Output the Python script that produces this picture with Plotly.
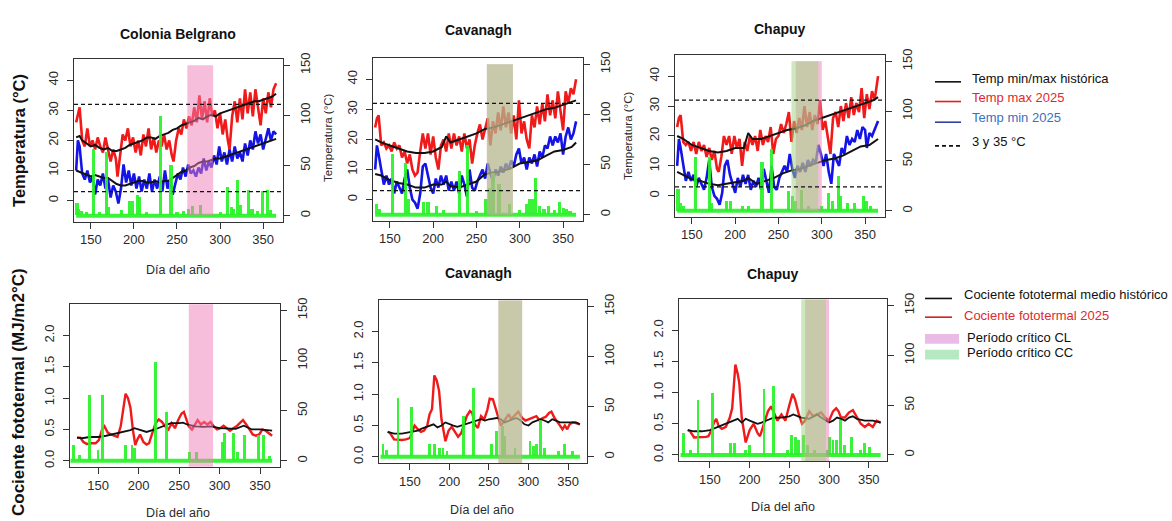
import numpy as np
import plotly.graph_objects as go

W, H = 1172, 521
FONT = "Liberation Sans, Arial, sans-serif"

# ------------------------------------------------------------------
# Temperaturas diarias (°C) por localidad
# ------------------------------------------------------------------
# Colonia Belgrano
cb_tmax_dias = [133,135,137,140,143,146,149,152,155,158,161,164,167,170,173,176,179,181,184,187,190,193,196,199,202,205,208,211,214,217,220,223,226,229,232,235,238,241,244,246,249,252,255,258,261,264,267,270,273,276,279,282,285,288,291,294,297,300,303,306,309,311,314,317,320,323,326,329,332,335,338,341,344,347,350,353,356,359,362,365]
cb_tmax = [26,29,31,20,18,24,18,20,17,21,18,16,21,17,13,17,14,8,15,22,20,24,18,21,16,20,15,22,18,24,17,21,16,20,18,22,17,20,15,13,20,24,22,27,24,28,25,31,26,35,27,33,26,34,28,30,24,29,22,27,20,17,28,33,26,34,27,37,29,36,28,37,31,25,34,29,36,31,37,39]
cb_tmin_dias = [133,135,137,140,143,146,149,152,155,158,161,164,167,170,173,176,179,182,185,188,191,194,197,200,203,206,209,212,215,218,221,224,227,230,233,236,239,242,245,248,251,254,257,260,263,266,269,272,275,278,281,284,287,290,293,296,299,302,305,308,311,314,317,320,323,326,329,332,335,338,341,344,347,350,353,356,359,362,365]
cb_tmin = [10,20,18,9,7,10,6,8,2,7,5,9,4,7,1,5,3,-1,4,12,6,10,5,9,4,8,3,7,4,9,3,7,4,8,3,10,4,7,2,6,9,7,11,8,12,9,10,8,11,9,14,10,13,11,15,12,18,13,16,12,17,13,18,14,16,13,19,15,20,17,23,19,22,17,21,24,20,23,22]
cb_hist_dias = [133,137,140,145,150,155,160,165,170,175,180,185,190,195,200,205,210,215,220,225,230,235,240,245,250,255,260,265,270,275,280,285,290,295,300,305,310,315,320,325,330,335,340,345,350,355,360,365]
cb_hmax = [21,21.5,20,19,18,18.5,17.5,17,17.5,16.5,16.5,17,17.5,18.5,19,19.5,20,21,21,20.5,21.5,22,22.5,23.5,24,25,25.5,26,26.5,27.5,27,28,28.5,28,29,29.5,30,30.5,31,31.5,32,32.5,33,33,33.5,34,34.5,35.5]
cb_hmin = [10,9.5,9,8.5,8,8.5,8,7.5,7.5,6.5,5.5,5,5,5.5,6,6.5,6.5,6,6,6.5,6,6.5,6.5,7.5,8.5,9.5,10,11,11.5,12.5,13,13,13.5,14,14,14.5,15,15.5,16,16.5,17,17.5,18,18.5,19,19.5,20,20.5]

# Cavanagh
cv_tmax_dias = [133,135,137,140,143,146,149,152,155,158,161,164,167,170,173,176,179,182,185,188,191,194,197,200,203,206,209,212,215,218,221,224,227,230,233,236,239,242,245,248,251,254,257,260,263,266,269,272,275,278,281,284,287,290,293,296,299,302,305,308,311,314,317,320,323,326,329,332,335,338,341,344,347,350,353,356,359,362,365]
cv_tmax = [24,27,28,18,19,17,18,16,19,17,18,14,16,12,15,10,8,9,16,22,17,22,15,21,14,10,18,20,16,22,17,22,18,21,16,22,17,20,12,18,22,25,20,24,27,18,26,22,29,23,31,24,29,22,28,20,33,22,26,20,17,28,24,31,25,32,26,35,28,33,27,36,30,23,36,32,37,35,40]
cv_tmin_dias = cv_tmax_dias
cv_tmin = [10,18,15,10,5,8,5,7,2,6,4,2,7,10,4,0,-1,-3,2,11,12,8,4,2,7,4,8,5,8,3,6,3,6,2,8,5,1,10,4,3,6,8,10,7,12,9,6,10,8,11,9,12,10,13,11,15,17,12,14,10,14,12,15,11,16,14,18,17,21,18,21,19,22,15,21,24,20,22,26]
cv_hist_dias = [133,140,150,160,170,180,190,200,210,215,220,230,240,250,260,270,280,290,300,310,320,330,340,350,360,365]
cv_hmax = [20,19,18,17,16,15.5,15.5,16,17.5,21,19,20,21,22,23.5,24,25,26,27,28,29,30,30.5,31.5,32.5,33]
cv_hmin = [8.5,8,6.5,5.5,5,4,4,5,5,6,4.5,4,5,6,8.5,9,9.5,10.5,12,12.5,13,14.5,16,16.5,17.5,19]

# Chapuy
cp_tmax_dias = [133,135,137,140,143,146,149,152,155,158,161,164,167,170,173,176,179,181,184,187,190,193,196,199,202,205,208,211,214,217,220,223,226,229,232,235,238,241,244,247,250,253,256,259,262,265,268,271,274,277,280,283,286,289,292,295,298,301,304,307,310,313,316,319,322,325,328,331,334,337,340,343,346,349,352,355,358,361,363,365]
cp_tmax = [23,26,27,18,17,18,15,18,14,18,15,17,13,16,12,15,9,8,13,20,17,20,14,20,16,19,10,18,15,20,17,20,15,22,17,20,18,23,14,19,20,24,21,24,28,18,25,21,26,22,30,23,28,22,27,24,32,22,25,20,14,26,28,23,30,25,31,26,33,27,31,28,36,26,34,29,35,32,36,40]
cp_tmin_dias = [133,135,137,140,143,146,149,152,155,158,161,164,167,170,173,176,179,182,185,188,191,194,197,200,203,206,209,212,215,218,221,224,227,230,233,236,239,242,245,248,251,254,257,260,263,266,269,272,275,278,281,284,287,290,293,296,299,302,305,308,311,314,317,320,323,326,329,332,335,338,341,344,347,350,352,355,358,361,365]
cp_tmin = [10,19,16,10,5,8,5,7,3,6,4,2,6,12,3,0,-1,-3,1,10,12,7,4,1,6,3,7,4,7,2,5,3,6,2,9,5,1,10,3,2,6,8,10,8,14,9,6,10,8,11,8,12,10,12,11,17,14,10,14,8,4,14,12,10,16,14,20,17,19,18,22,19,23,22,16,21,20,22,25]
cp_hist_max_dias = [133,140,150,160,170,180,190,200,210,215,220,230,240,250,260,270,280,290,300,310,320,330,340,350,360,365]
cp_hmax = [20,19,17,16,15,14.5,15,16,16,21,19,19,20,21,22,22.5,23.5,25,26,27,28,29,30,31,32,33]
cp_hist_min_dias = [133,140,150,160,170,180,190,200,210,215,225,235,245,255,265,275,285,295,305,315,325,335,345,355,365]
cp_hmin = [8,7,5.5,5,4,3.5,4,4.5,5,6,4,5,6,7.5,8.5,9,10,11,12,12.5,13.5,15,16.5,17,19]

# ------------------------------------------------------------------
# Precipitación diaria (mm); los días no listados son secos
# ------------------------------------------------------------------
cb_lluvia_dias = [134,136,139,145,153,160,168,171,186,195,198,204,207,215,231,243,250,258,263,268,277,300,309,313,316,320,324,333,337,343,349,355,358]
cb_lluvia = [12,6,4,3,66,3,63,8,5,14,14,20,18,3,99,50,3,4,6,9,10,3,28,8,6,35,10,25,6,4,24,25,5]
cv_lluvia_dias = [135,138,153,168,171,189,194,204,212,230,240,250,261,265,269,276,288,300,308,311,315,318,323,328,333,340,346,350,354,358]
cv_lluvia = [10,5,60,51,15,12,12,8,4,43,69,3,15,26,41,30,10,4,10,15,15,36,8,5,8,4,12,6,5,3]
cp_lluvia_dias = [134,137,140,154,170,173,190,195,208,215,231,242,262,266,270,277,285,300,308,312,319,322,330,338,348,351,356]
cp_lluvia = [22,8,5,54,54,8,10,10,5,5,49,62,20,15,10,21,5,5,18,10,35,15,8,8,15,10,5]

cb_lluvia2_dias = [120,127,139,150,155,184,192,195,221,234,263,272,304,306,317,322,331,348,354,362]
cb_lluvia2 = [15,5,65,10,65,15,15,12,98,48,8,8,18,27,27,8,25,25,25,4]
cv_lluvia2_dias = [116,120,135,152,175,181,188,192,197,218,231,253,260,267,270,283,302,306,310,315,320,338,346,356]
cv_lluvia2 = [12,6,58,49,12,12,8,8,5,40,68,12,25,30,20,8,15,10,12,36,8,5,12,5]
cp_lluvia2_dias = [117,125,135,153,176,181,195,200,218,230,248,253,258,262,268,273,282,298,301,305,309,314,320,328,340,345,351]
cp_lluvia2 = [22,5,55,62,12,12,5,10,66,69,5,20,18,15,20,10,5,5,18,15,15,35,10,18,5,12,8]

# Período de registro (día inicial, día final)
registro_temp = [133, 365]
registro_cb_q = [116, 365]
registro_cv_q = [113, 365]
registro_cp_q = [113, 365]

# ------------------------------------------------------------------
# Cociente fototermal (MJ/m2°C)
# ------------------------------------------------------------------
cb_qh_dias = [124,130,140,150,160,170,180,190,195,200,210,220,230,240,250,255,260,270,280,290,300,310,320,330,340,350,360,365]
cb_qh = [0.37,0.36,0.38,0.38,0.40,0.43,0.46,0.49,0.52,0.50,0.46,0.50,0.55,0.60,0.60,0.61,0.58,0.55,0.54,0.55,0.52,0.52,0.51,0.56,0.50,0.50,0.49,0.48]
cb_q_dias = [124,128,132,136,142,147,151,155,158,162,166,170,174,178,181,184,187,190,193,196,199,202,206,210,213,217,221,225,229,233,237,241,245,249,253,256,259,262,266,270,273,277,281,285,289,293,297,301,305,309,313,317,321,325,329,333,337,341,345,349,353,357,361,365]
cb_q = [0.37,0.37,0.30,0.27,0.28,0.28,0.33,0.50,0.55,0.45,0.42,0.40,0.38,0.55,0.80,1.07,1.00,0.85,0.50,0.25,0.35,0.42,0.30,0.26,0.28,0.45,0.60,0.66,0.62,0.55,0.50,0.60,0.52,0.65,0.75,0.78,0.65,0.55,0.50,0.58,0.65,0.58,0.62,0.58,0.62,0.55,0.50,0.52,0.56,0.52,0.48,0.52,0.55,0.60,0.65,0.58,0.50,0.42,0.40,0.42,0.50,0.48,0.44,0.40]

cv_qh_dias = [122,130,140,150,160,165,175,180,185,190,195,200,205,210,220,230,240,245,250,260,265,270,275,280,285,290,295,300,305,310,315,320,325,330,335,340,350,360,365]
cv_qh = [0.40,0.37,0.37,0.40,0.42,0.45,0.50,0.52,0.47,0.50,0.55,0.52,0.50,0.48,0.52,0.55,0.60,0.58,0.60,0.62,0.60,0.55,0.58,0.60,0.62,0.58,0.52,0.50,0.55,0.58,0.60,0.58,0.55,0.60,0.58,0.55,0.55,0.55,0.52]
cv_q_dias = [122,125,130,135,140,145,150,153,156,160,164,168,172,175,178,181,184,187,190,195,199,203,207,211,215,219,222,226,229,232,236,240,244,248,251,255,258,262,265,268,272,275,278,282,287,292,296,300,305,310,314,318,322,326,329,333,337,340,343,346,349,352,356,360,365]
cv_q = [0.40,0.38,0.28,0.27,0.27,0.28,0.30,0.40,0.50,0.44,0.40,0.42,0.50,0.68,0.76,1.30,1.22,1.05,0.60,0.25,0.42,0.48,0.40,0.32,0.38,0.55,0.65,0.73,0.70,0.52,0.46,0.65,0.60,0.75,0.93,0.92,0.80,0.62,0.50,0.55,0.62,0.68,0.60,0.65,0.72,0.62,0.58,0.60,0.62,0.65,0.58,0.62,0.64,0.70,0.72,0.62,0.55,0.50,0.44,0.50,0.44,0.52,0.55,0.54,0.52]

cp_qh_dias = [122,130,140,150,160,170,175,180,185,190,195,200,210,215,220,230,240,250,255,265,275,285,290,300,305,310,315,320,325,330,335,345,355,365]
cp_qh = [0.40,0.38,0.38,0.40,0.45,0.50,0.52,0.55,0.58,0.52,0.58,0.55,0.50,0.52,0.55,0.60,0.60,0.62,0.65,0.60,0.58,0.65,0.60,0.52,0.55,0.60,0.58,0.55,0.60,0.62,0.58,0.55,0.55,0.52]
cp_q_dias = [122,125,130,135,140,145,148,152,155,158,161,165,170,175,178,182,185,187,190,195,200,205,210,213,218,223,227,230,235,240,245,250,254,257,262,266,270,275,280,285,290,295,300,305,309,312,315,320,325,330,335,340,345,350,355,360,365]
cp_q = [0.40,0.38,0.28,0.28,0.28,0.29,0.30,0.40,0.52,0.58,0.46,0.42,0.45,0.60,0.75,1.45,1.30,1.15,0.60,0.20,0.40,0.50,0.35,0.30,0.50,0.70,0.78,0.70,0.55,0.65,0.55,0.80,0.98,0.90,0.65,0.50,0.55,0.70,0.62,0.65,0.68,0.60,0.55,0.70,0.75,0.70,0.60,0.60,0.68,0.72,0.60,0.50,0.45,0.50,0.45,0.55,0.52]

# Períodos críticos (día inicio, día fin): CL y CC
cb_periodo_cl = [262, 292]
cv_periodo_cl = [262, 292]
cv_periodo_cc = [262, 292]
cp_periodo_cl = [270, 300]
cp_periodo_cc = [265, 296]

# Umbrales térmicos (°C) y extensión vertical de los períodos (°C)
umbrales = [3, 32]
franja_temp = [-5, 45]

# ------------------------------------------------------------------
ROJO = "#f01a1a"
AZUL = "#1414e6"
NEGRO = "#111111"
VERDE = "rgba(40,242,40,0.92)"
ROSA_P = "rgba(237,125,181,0.5)"
VERDE_P = "rgba(154,210,122,0.5)"
EJE = "#333333"
TXT = "#2a2a2a"


def fx(p):
    return p / W


def fy(p):
    return 1 - p / H


fig = go.Figure()

paneles = [
    dict(kind="t", box=(74, 283, 53, 218), xr=[130.5, 373], yr=[-7, 47], yr2=[-6, 156],
         tmax=(cb_tmax_dias, cb_tmax), tmin=(cb_tmin_dias, cb_tmin),
         hmax=(cb_hist_dias, cb_hmax), hmin=(cb_hist_dias, cb_hmin),
         lluvia=(cb_lluvia_dias, cb_lluvia), reg=registro_temp, cl=cb_periodo_cl, cc=None),
    dict(kind="t", box=(373, 583, 52, 217), xr=[130.5, 373], yr=[-7, 47], yr2=[-6, 156],
         tmax=(cv_tmax_dias, cv_tmax), tmin=(cv_tmin_dias, cv_tmin),
         hmax=(cv_hist_dias, cv_hmax), hmin=(cv_hist_dias, cv_hmin),
         lluvia=(cv_lluvia_dias, cv_lluvia), reg=registro_temp, cl=cv_periodo_cl, cc=cv_periodo_cc),
    dict(kind="t", box=(675, 885, 49, 213), xr=[130.5, 373], yr=[-7, 47], yr2=[-6, 156],
         tmax=(cp_tmax_dias, cp_tmax), tmin=(cp_tmin_dias, cp_tmin),
         hmax=(cp_hist_max_dias, cp_hmax), hmin=(cp_hist_min_dias, cp_hmin),
         lluvia=(cp_lluvia_dias, cp_lluvia), reg=registro_temp, cl=cp_periodo_cl, cc=cp_periodo_cc),
    dict(kind="q", box=(70, 280, 302, 467), xr=[115.4, 374.7], yr=[-0.096, 2.496], yr2=[-6, 156],
         qh=(cb_qh_dias, cb_qh), q=(cb_q_dias, cb_q),
         lluvia=(cb_lluvia2_dias, cb_lluvia2), reg=registro_cb_q, cl=cb_periodo_cl, cc=None),
    dict(kind="q", box=(379, 587, 298, 463), xr=[111, 374], yr=[-0.096, 2.496], yr2=[-6, 156],
         qh=(cv_qh_dias, cv_qh), q=(cv_q_dias, cv_q),
         lluvia=(cv_lluvia2_dias, cv_lluvia2), reg=registro_cv_q, cl=cv_periodo_cl, cc=cv_periodo_cc),
    dict(kind="q", box=(679, 887, 297, 461), xr=[111, 373], yr=[-0.096, 2.496], yr2=[-6, 156],
         qh=(cp_qh_dias, cp_qh), q=(cp_q_dias, cp_q),
         lluvia=(cp_lluvia2_dias, cp_lluvia2), reg=registro_cp_q, cl=cp_periodo_cl, cc=cp_periodo_cc),
]

tickfont = dict(family=FONT, size=13, color=TXT)
shapes = []
layout_axes = {}

for i, p in enumerate(paneles, start=1):
    xa = f"x{i}" if i > 1 else "x"
    ya = f"y{i}" if i > 1 else "y"
    ya2 = f"y{i + 6}"
    l, r, t, b = p["box"]

    if p["kind"] == "t":
        for (dx, vy), col, w in [(p["tmax"], ROJO, 2.6), (p["tmin"], AZUL, 2.6),
                                 (p["hmax"], NEGRO, 2.0), (p["hmin"], NEGRO, 2.0)]:
            fig.add_trace(go.Scatter(x=dx, y=vy, mode="lines", xaxis=xa, yaxis=ya,
                                     line=dict(color=col, width=w), hoverinfo="skip"))
    else:
        for (dx, vy), col, w in [(p["q"], ROJO, 2.4), (p["qh"], NEGRO, 1.8)]:
            fig.add_trace(go.Scatter(x=dx, y=vy, mode="lines", xaxis=xa, yaxis=ya,
                                     line=dict(color=col, width=w), hoverinfo="skip"))

    # precipitación (eje derecho)
    ld, lv = p["lluvia"]
    fig.add_trace(go.Bar(x=ld, y=lv, xaxis=xa, yaxis=ya2, width=3.6,
                         marker=dict(color=VERDE, line=dict(width=0)), hoverinfo="skip"))
    dias = np.arange(p["reg"][0], p["reg"][1] + 1)
    fig.add_trace(go.Scatter(x=dias, y=np.zeros(len(dias)), mode="lines", xaxis=xa, yaxis=ya2,
                             line=dict(color=VERDE, width=4), hoverinfo="skip"))

    # períodos críticos
    if p["kind"] == "t":
        yref, y0, y1 = ya, franja_temp[0], franja_temp[1]
    else:
        yref, y0, y1 = f"{ya} domain", 0, 1
    for per, col in [(p["cl"], ROSA_P), (p["cc"], VERDE_P)]:
        if per is None:
            continue
        shapes.append(dict(type="rect", xref=xa, yref=yref, x0=per[0], x1=per[1], y0=y0, y1=y1,
                           fillcolor=col, line=dict(width=0), layer="above"))

    if p["kind"] == "t":
        for u in umbrales:
            shapes.append(dict(type="line", xref=f"{xa} domain", yref=ya, x0=0, x1=1, y0=u, y1=u,
                               line=dict(color=NEGRO, width=1.3, dash="4px,3px"), layer="above"))

    common = dict(showgrid=False, zeroline=False, ticks="outside", ticklen=6, tickwidth=1.2,
                  tickcolor=EJE, tickfont=tickfont, linecolor=EJE, linewidth=1.3)
    layout_axes[f"xaxis{i}" if i > 1 else "xaxis"] = dict(
        domain=[fx(l), fx(r)], range=p["xr"], anchor=ya, tickvals=[150, 200, 250, 300, 350],
        showline=True, mirror=True, **common)
    if p["kind"] == "t":
        yt = dict(tickvals=[0, 10, 20, 30, 40])
    else:
        yt = dict(tickvals=[0, 0.5, 1.0, 1.5, 2.0], tickformat=".1f")
    layout_axes[f"yaxis{i}" if i > 1 else "yaxis"] = dict(
        domain=[fy(b), fy(t)], range=p["yr"], anchor=xa, tickangle=-90,
        showline=True, mirror=True, ticklabelstandoff=4, **yt, **common)
    layout_axes[f"yaxis{i + 6}"] = dict(
        overlaying=ya, side="right", anchor=xa, range=p["yr2"], tickvals=[0, 50, 100, 150],
        tickangle=-90, showline=False, ticklabelstandoff=4, **common)

# ------------------------------------------------------------------
# Textos
# ------------------------------------------------------------------
ann = []


def texto(s, x, y, size=12.5, bold=False, color=TXT, angle=0, xanchor="center"):
    if bold:
        s = f"<b>{s}</b>"
    ann.append(dict(text=s, x=fx(x), y=fy(y), xref="paper", yref="paper", showarrow=False,
                    xanchor=xanchor, yanchor="middle", textangle=angle,
                    font=dict(family=FONT, size=size, color=color)))


texto("Colonia Belgrano", 178, 27, 14, True, "#111")
texto("Cavanagh", 478, 23, 14, True, "#111")
texto("Chapuy", 780, 22, 14, True, "#111")
texto("Cavanagh", 478, 270, 14, True, "#111")
texto("Chapuy", 773, 271, 14, True, "#111")

texto("Temperatura (°C)", 19, 136, 16.5, True, "#111", -90)
texto("Cociente fototermal (MJ/m2°C)", 19, 391, 17, True, "#111", -90)
texto("Temperatura (°C)", 328, 133, 11.5, False, TXT, -90)
texto("Temperatura (°C)", 628, 131, 11.5, False, TXT, -90)

texto("Día del año", 178, 267, 12.5)
texto("Día del año", 178, 514, 12.5)
texto("Día del año", 482, 511, 12.5)
texto("Día del año", 783, 508, 12.5)

# Leyenda superior
ley_sup = [
    ("Temp min/max histórica", NEGRO, "#111", "solid", 76, 73),
    ("Temp max 2025", ROJO, "#e02a2a", "solid", 96, 92),
    ("Temp min 2025", "#3040a0", "#3a6fc0", "solid", 117, 112),
    ("3 y 35 °C", NEGRO, "#111", "4px,3px", 141, 137),
]
for s, lc, tc, dash, ly, ty in ley_sup:
    shapes.append(dict(type="line", xref="paper", yref="paper", x0=fx(935), x1=fx(961),
                       y0=fy(ly), y1=fy(ly), line=dict(color=lc, width=1.6, dash=dash)))
    texto(s, 970, ty, 13, False, tc, 0, "left")

# Leyenda inferior
for s, lc, tc, ly, ty in [("Cociente fototermal medio histórico", NEGRO, "#111", 296, 292),
                          ("Cociente fototermal 2025", "#d02020", "#e02a2a", 315, 313)]:
    shapes.append(dict(type="line", xref="paper", yref="paper", x0=fx(925), x1=fx(952),
                       y0=fy(ly), y1=fy(ly), line=dict(color=lc, width=1.6)))
    texto(s, 962, ty, 13, False, tc, 0, "left")
for s, col, y0, y1, ty in [("Período crítico CL", "#ebbbe8", 332, 342, 336),
                           ("Período crítico CC", "#b6e8c2", 348, 358, 351)]:
    shapes.append(dict(type="rect", xref="paper", yref="paper", x0=fx(925), x1=fx(959),
                       y0=fy(y1), y1=fy(y0), fillcolor=col, line=dict(width=0)))
    texto(s, 965, ty, 13, False, "#111", 0, "left")

fig.update_layout(
    width=W, height=H, autosize=False,
    margin=dict(l=0, r=0, t=0, b=0),
    paper_bgcolor="white", plot_bgcolor="white",
    showlegend=False, bargap=0,
    shapes=shapes, annotations=ann,
    **layout_axes,
)

fig.write_html("out.html")
